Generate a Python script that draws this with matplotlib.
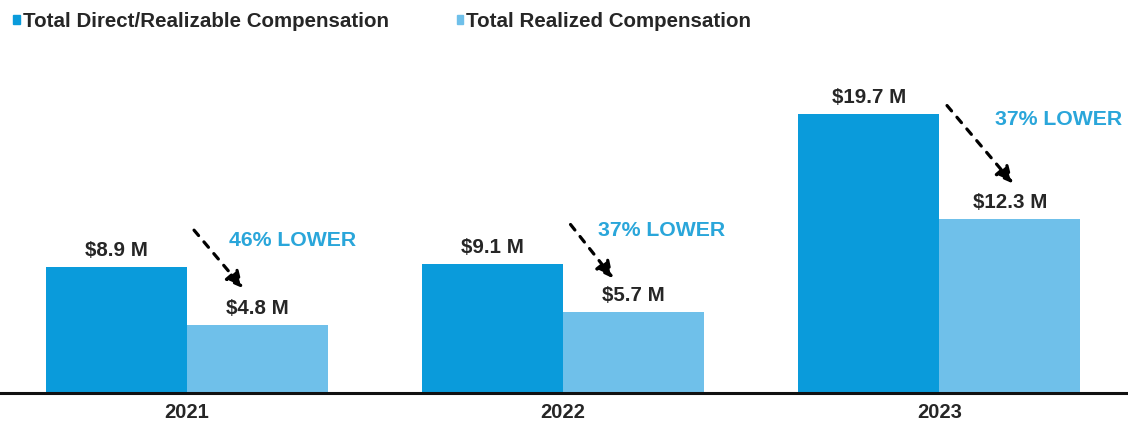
import matplotlib
matplotlib.use("Agg")
from matplotlib import pyplot as plt
from matplotlib.patches import Patch
import numpy as np

# data
years = ["2021", "2022", "2023"]
direct = [8.9, 9.1, 19.7]
realized = [4.8, 5.7, 12.3]
pct_lower = ["46% LOWER", "37% LOWER", "37% LOWER"]

# annotation anchors (y in $M) for the dashed arrows and the % text
arrow_from = [11.5, 11.9, 20.3]
arrow_to = [7.4, 8.1, 14.8]
pct_y = [10.8, 11.5, 19.3]

dark = "#0a9bdb"
light = "#6fc0ea"
pct_col = "#2aa6da"
txt = "#262626"

plt.rcParams['font.family'] = ['Liberation Sans', 'DejaVu Sans']
plt.rcParams['font.weight'] = 'bold'

fig = plt.figure(figsize=(11.28, 4.22), dpi=100)
ax = fig.add_axes([0, 29 / 422, 1, 333 / 422])

x = np.arange(len(years))
w = 0.3745
b1 = ax.bar(x - w / 2, direct, w, color=dark)
b2 = ax.bar(x + w / 2, realized, w, color=light)

ax.bar_label(b1, labels=["$%.1f M" % v for v in direct], padding=5,
             fontsize=14.8, fontweight='bold', color=txt)
ax.bar_label(b2, labels=["$%.1f M" % v for v in realized], padding=5,
             fontsize=14.8, fontweight='bold', color=txt)

for i in range(len(years)):
    x0 = i + 0.02
    x1 = i + (0.15 if i < 2 else 0.195)
    if i == 1:
        x1 = i + 0.133
    ax.annotate("", xy=(x1, arrow_to[i]), xytext=(x0, arrow_from[i]),
                arrowprops=dict(arrowstyle="-|>,head_length=1.0,head_width=0.5",
                                linestyle=(0, (2.2, 2.6)), lw=2.3, color="black",
                                shrinkA=0, shrinkB=0))
    tx = i + (0.113 if i == 0 else (0.093 if i == 1 else 0.147))
    ax.text(tx, pct_y[i], pct_lower[i], color=pct_col, fontsize=15.3,
            fontweight='bold', va='center', ha='left')

ax.set_xlim(-0.4954, 2.5007)
ax.set_ylim(0, 333 / 14.16)
ax.set_xticks(x)
ax.set_xticklabels(years, fontsize=14.5, fontweight='bold', color=txt)
ax.tick_params(axis='x', length=0, pad=7)
ax.set_yticks([])
for s in ['top', 'right', 'left']:
    ax.spines[s].set_visible(False)
ax.spines['bottom'].set_linewidth(2.2)
ax.spines['bottom'].set_color('#111111')

handles = [Patch(color=dark), Patch(color=light)]
fig.legend(handles, ["Total Direct/Realizable Compensation", "Total Realized Compensation"],
           loc='upper left', bbox_to_anchor=(-0.0045, 1.015), ncol=2, frameon=False,
           handlelength=0.3, handleheight=0.3, handletextpad=0.15, columnspacing=3.3,
           prop={'size': 14.8, 'weight': 'bold'}, labelcolor=txt)

fig.savefig("out.png", dpi=100)
